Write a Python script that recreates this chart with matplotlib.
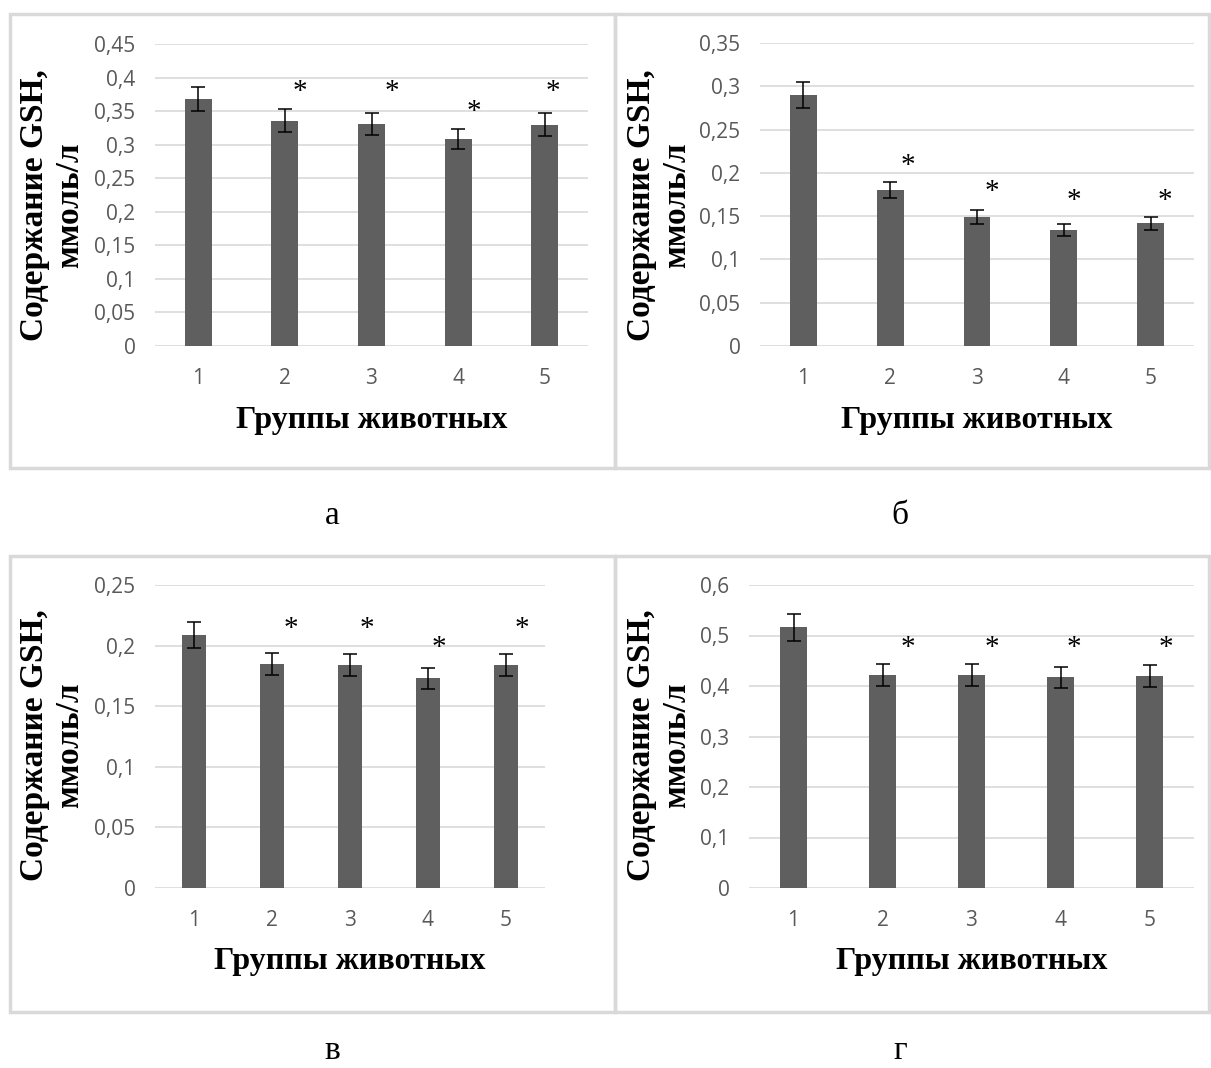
import matplotlib
matplotlib.use("Agg")
import matplotlib.pyplot as plt
from matplotlib.patches import Rectangle

# ---------------- data ----------------
groups = ["1", "2", "3", "4", "5"]

vals_a = [0.368, 0.336, 0.331, 0.309, 0.330]
err_a = [0.018, 0.017, 0.016, 0.015, 0.017]
yticks_a = [0, 0.05, 0.1, 0.15, 0.2, 0.25, 0.3, 0.35, 0.4, 0.45]

vals_b = [0.290, 0.180, 0.149, 0.134, 0.142]
err_b = [0.015, 0.009, 0.008, 0.007, 0.0075]
yticks_b = [0, 0.05, 0.1, 0.15, 0.2, 0.25, 0.3, 0.35]

vals_c = [0.209, 0.185, 0.184, 0.173, 0.184]
err_c = [0.0107, 0.009, 0.009, 0.0087, 0.009]
yticks_c = [0, 0.05, 0.1, 0.15, 0.2, 0.25]

vals_d = [0.516, 0.422, 0.422, 0.417, 0.420]
err_d = [0.027, 0.0215, 0.0215, 0.020, 0.0215]
yticks_d = [0, 0.1, 0.2, 0.3, 0.4, 0.5, 0.6]

# significance marks (groups 2..5): vertical position of the asterisk
star_groups = [2, 3, 4, 5]
star_y_a = [0.379, 0.379, 0.349, 0.379]
star_y_b = [0.208, 0.178, 0.167, 0.167]
star_y_c = [0.2134, 0.2134, 0.198, 0.2134]
star_y_d = [0.476, 0.476, 0.476, 0.476]

panel_letters = ["а", "б", "в", "г"]
xlabel_text = "Группы животных"
ylabel_text = "Содержание GSH,\nммоль/л"

# ---------------- layout ----------------
W, H = 1211, 1068
fig = plt.figure(figsize=(W / 100, H / 100), dpi=100)
fig.patch.set_facecolor("white")


def rect(x0, y0, x1, y1):
    return [x0 / W, 1 - y1 / H, (x1 - x0) / W, (y1 - y0) / H]


BAR = "#5f5f5f"
GRID = "#d9d9d9"
TICKC = "#595959"

panels = [
    dict(vals=vals_a, err=err_a, yt=yticks_a, sy=star_y_a,
         ax=(155, 44, 588, 346), frame=(10, 14, 615, 468),
         soff=[0.17, 0.23, 0.18, 0.09], ylab=(52, 205), letter=(332, 524)),
    dict(vals=vals_b, err=err_b, yt=yticks_b, sy=star_y_b,
         ax=(760, 43, 1194, 346), frame=(615, 14, 1209, 468),
         soff=[0.20, 0.17, 0.12, 0.17], ylab=(659, 205), letter=(900, 524)),
    dict(vals=vals_c, err=err_c, yt=yticks_c, sy=star_y_c,
         ax=(155, 585, 545, 888), frame=(10, 556, 615, 1012),
         soff=[0.24, 0.22, 0.14, 0.20], ylab=(52, 745), letter=(332, 1059)),
    dict(vals=vals_d, err=err_d, yt=yticks_d, sy=star_y_d,
         ax=(749, 585, 1194, 888), frame=(615, 556, 1209, 1012),
         soff=[0.28, 0.23, 0.15, 0.18], ylab=(659, 745), letter=(900, 1059)),
]


def fmt(v):
    s = f"{v:g}"
    return s.replace(".", ",")


for i, p in enumerate(panels):
    fx0, fy0, fx1, fy1 = p["frame"]
    fig.patches.append(Rectangle((fx0 / W, 1 - fy1 / H), (fx1 - fx0) / W, (fy1 - fy0) / H,
                                 transform=fig.transFigure, fill=False,
                                 edgecolor=GRID, linewidth=2.5, zorder=0))

    ax = fig.add_axes(rect(*p["ax"]))
    x = list(range(1, len(groups) + 1))
    ax.bar(x, p["vals"], width=0.31, color=BAR, zorder=3,
           yerr=p["err"], error_kw=dict(ecolor="black", elinewidth=1.1,
                                        capsize=4.8, capthick=1.1, zorder=4))
    ax.set_xlim(0.5, len(groups) + 0.5)
    ax.set_ylim(0, p["yt"][-1])
    ax.set_yticks(p["yt"])
    ax.set_yticklabels([fmt(v) for v in p["yt"]])
    ax.set_xticks(x)
    ax.set_xticklabels(groups)
    for s in ax.spines.values():
        s.set_visible(False)
    ax.yaxis.grid(True, color=GRID, linewidth=1.2, zorder=0)
    ax.set_axisbelow(True)
    ax.tick_params(length=0, labelsize=15, labelcolor=TICKC)
    ax.tick_params(axis="y", pad=14)
    ax.tick_params(axis="x", pad=16)
    for lab in ax.get_xticklabels() + ax.get_yticklabels():
        lab.set_fontfamily("Open Sans")

    for g, yv, off in zip(star_groups, p["sy"], p["soff"]):
        ax.text(g + off, yv, "*", ha="center", va="center",
                fontfamily="Liberation Serif", fontsize=21, color="black", zorder=5)

    # x label
    axx0, axy0, axx1, axy1 = p["ax"]
    fig.text(((axx0 + axx1) / 2) / W, 1 - (axy1 + 74) / H, xlabel_text,
             ha="center", va="center", fontfamily="Liberation Serif",
             fontweight="bold", fontsize=23)
    # y label
    lx, ly = p["ylab"]
    fig.text(lx / W, 1 - ly / H, ylabel_text, rotation=90, ha="center", va="center",
             multialignment="center", linespacing=1.2,
             fontfamily="Liberation Serif", fontweight="bold", fontsize=24)
    # panel letter
    tx, ty = p["letter"]
    fig.text(tx / W, 1 - ty / H, panel_letters[i], ha="center", va="baseline",
             fontfamily="Liberation Serif", fontsize=24)

fig.savefig("out.png", dpi=100, facecolor="white")
